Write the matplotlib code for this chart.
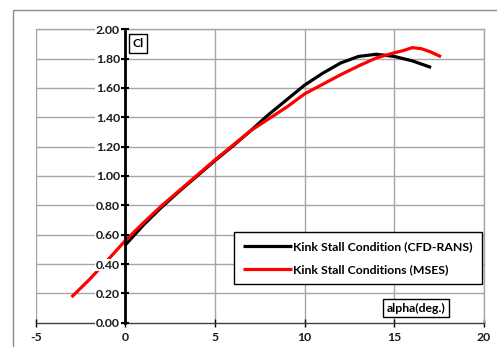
import matplotlib
matplotlib.use("Agg")
import matplotlib.pyplot as plt
from matplotlib.patches import Rectangle

# Lift coefficient vs angle of attack
alpha_rans = [0, 1, 2, 3, 4, 5, 6, 7, 8, 9, 10, 11, 12, 13, 14, 15, 16, 17.05]
cl_rans = [0.53, 0.665, 0.785, 0.895, 1.0, 1.105, 1.205, 1.31, 1.42, 1.52, 1.62,
           1.70, 1.77, 1.815, 1.83, 1.815, 1.785, 1.74]

alpha_mses = [-3, -2, -1, 0, 1, 2, 3, 4, 5, 6, 7, 8, 9, 10, 11, 12, 13, 14,
              15, 15.5, 16, 16.5, 17, 17.6]
cl_mses = [0.175, 0.295, 0.425, 0.56, 0.68, 0.795, 0.90, 1.005, 1.11, 1.21, 1.31,
           1.39, 1.47, 1.56, 1.625, 1.69, 1.75, 1.805, 1.84, 1.855, 1.875,
           1.868, 1.847, 1.813]

labels = ["Kink Stall Condition (CFD-RANS)", "Kink Stall Conditions (MSES)"]
x_ticks = [-5, 0, 5, 10, 15, 20]
y_ticks = [0.0, 0.2, 0.4, 0.6, 0.8, 1.0, 1.2, 1.4, 1.6, 1.8, 2.0]

W, H = 497, 347
fig = plt.figure(figsize=(W / 100, H / 100), dpi=100)
font = "Lato"
fs = 8.8

# outer chart-area frame
fig.patches.append(Rectangle((13 / W, -0.2), 1.2, 1.2 - 10 / H,
                             transform=fig.transFigure, fill=False,
                             edgecolor="#8c8c8c", lw=1.0, zorder=0))

ax = fig.add_axes([35.7 / W, 1 - 322.7 / H, (484 - 35.7) / W, (322.7 - 29.3) / H])
ax.set_xlim(-5, 20)
ax.set_ylim(0, 2)

# horizontal grid drawn under the curves
for y in y_ticks[1:]:
    ax.axhline(y, color="#a6a6a6", lw=1.0, zorder=0.5)
ax.grid(axis="x", color="#a6a6a6", lw=1.0)
ax.set_axisbelow(True)

ax.plot(alpha_rans, cl_rans, color="black", lw=2.3, label=labels[0],
        solid_capstyle="butt", zorder=2)
ax.plot(alpha_mses, cl_mses, color="#ff0000", lw=2.3, label=labels[1],
        solid_capstyle="butt", zorder=2.1)

for s in ("top", "right"):
    ax.spines[s].set_color("#a6a6a6")
    ax.spines[s].set_linewidth(1.0)
ax.spines["left"].set_position(("data", 0))
ax.spines["left"].set_linewidth(2.0)
ax.spines["left"].set_color("black")
ax.spines["bottom"].set_color("#404040")
ax.spines["bottom"].set_linewidth(1.0)

ax.set_xticks(x_ticks)
ax.set_xticklabels([f"{v:d}" for v in x_ticks])
ax.set_yticks(y_ticks)
ax.set_yticklabels([f"{v:.2f}" for v in y_ticks])
ax.tick_params(axis="y", direction="inout", length=6, width=1.5, pad=1,
               labelsize=fs, colors="black")
ax.tick_params(axis="x", direction="inout", length=6, width=1.0, pad=4,
               labelsize=fs, colors="black")
for t in ax.get_xticklabels() + ax.get_yticklabels():
    t.set_fontfamily(font)
    t.set_fontweight("bold")
    t.set_color("#1a1a1a")
for t in ax.get_yticklabels():
    t.set_bbox(dict(facecolor="white", edgecolor="none", pad=0.6))
ax.yaxis.set_zorder(3)

box = dict(facecolor="white", edgecolor="black", lw=1.0,
           boxstyle="square,pad=0.3")
fig.text(138 / W, 1 - 43.5 / H, "Cl", fontsize=fs, fontfamily=font,
         fontweight="bold", ha="center", va="center", zorder=6, bbox=box)
fig.text(416 / W, 1 - 308 / H, "alpha(deg.)", fontsize=fs, fontfamily=font,
         fontweight="bold", ha="center", va="center", zorder=6, bbox=box)

leg = ax.legend(loc="upper left", bbox_to_anchor=(234 / W, 1 - 232 / H),
                bbox_transform=fig.transFigure, frameon=True, fancybox=False,
                edgecolor="black", framealpha=1,
                prop=dict(family=font, weight="bold", size=fs),
                handlelength=4.0, handletextpad=0.1, labelspacing=0.95,
                borderpad=0.75, borderaxespad=0)
leg.get_frame().set_linewidth(1.0)
leg.set_zorder(6)

fig.savefig("out.png", dpi=100)
